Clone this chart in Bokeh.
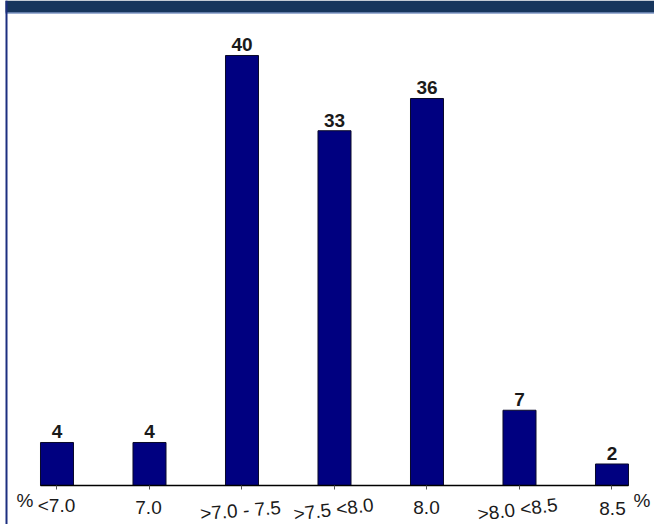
import math
from bokeh.plotting import figure
from bokeh.models import (Range1d, FixedTicker, BoxAnnotation, Label, LabelSet,
                          ColumnDataSource, LinearAxis, CustomJSTickFormatter)
from bokeh.core.properties import value
from bokeh.embed import file_html
from bokeh.resources import INLINE

# ---- data ----
categories = ["<7.0", "7.0", ">7.0 - 7.5", ">7.5 <8.0", "8.0", ">8.0 <8.5", "8.5"]
values = [4, 4, 40, 33, 36, 7, 2]
unit_label = "%"

# ---- layout of category labels (pixel offsets from tick, rotation in degrees) ----
label_dx = [-0.5, -1, -1.5, -1, -0.5, -2, 0.5]
label_dy = [-20, -22, -25, -24, -22, -24, -23]
label_angle = [0, 0, 4.5, 7, 0, 7, 0]

idx = list(range(len(categories)))
BAR_W = 0.357
FONT = "Liberation Sans"
TXT = "#1a1a1a"

p = figure(width=654, height=524, output_backend="svg", toolbar_location=None,
           x_range=Range1d(-0.6108, 6.4595), y_range=Range1d(-3.628, 45.116),
           x_axis_location=None, y_axis_location=None,
           min_border_left=0, min_border_right=0, min_border_top=0,
           min_border_bottom=0)
p.background_fill_color = "white"
p.border_fill_color = "white"
p.outline_line_color = None
p.xgrid.visible = False
p.ygrid.visible = False

src = ColumnDataSource(dict(x=idx, top=values, lab=[str(v) for v in values]))
p.vbar(x="x", top="top", width=BAR_W, source=src, fill_color="#000080",
       line_color="#0a0a2a", line_width=1)

ax = LinearAxis(fixed_location=0, bounds=(idx[0] - BAR_W / 2, idx[-1] + BAR_W / 2))
ax.ticker = FixedTicker(ticks=idx)
ax.formatter = CustomJSTickFormatter(code="return ''")
ax.minor_tick_line_color = None
ax.major_tick_in = 4
ax.major_tick_out = 0
ax.major_label_standoff = 0
ax.major_tick_line_color = "#555555"
ax.axis_line_color = "black"
ax.axis_line_width = 1.5
p.add_layout(ax, "above")

p.add_layout(LabelSet(x="x", y="top", text="lab", source=src, y_offset=4,
                      text_align="center", text_baseline="alphabetic",
                      text_font=value(FONT), text_font_size=value("19px"),
                      text_font_style="bold", text_color=TXT))

for i, c in enumerate(categories):
    p.add_layout(Label(x=i, y=0, text=c, x_offset=label_dx[i], y_offset=label_dy[i],
                       angle=math.radians(label_angle[i]), text_align="center",
                       text_baseline="alphabetic", text_font=FONT,
                       text_font_size="19px", text_color=TXT))

p.add_layout(Label(x=0, y=0, text=unit_label, x_offset=-32, y_offset=-15,
                   text_align="center", text_baseline="alphabetic", text_font=FONT,
                   text_font_size="19px", text_color=TXT))
p.add_layout(Label(x=len(categories) - 1, y=0, text=unit_label, x_offset=30, y_offset=-15,
                   text_align="center", text_baseline="alphabetic", text_font=FONT,
                   text_font_size="19px", text_color=TXT))

# slide frame decoration (canvas units: y measured from the top)
p.add_layout(BoxAnnotation(left=5, right=654, top=0, bottom=12,
                           left_units="canvas", right_units="canvas",
                           bottom_units="canvas", top_units="canvas",
                           fill_color="#17365d", fill_alpha=1, line_color=None))
p.add_layout(BoxAnnotation(left=5, right=654, top=12, bottom=13,
                           left_units="canvas", right_units="canvas",
                           bottom_units="canvas", top_units="canvas",
                           fill_color="#3f63a8", fill_alpha=1, line_color=None))
p.add_layout(BoxAnnotation(left=5, right=7, top=0, bottom=524,
                           left_units="canvas", right_units="canvas",
                           bottom_units="canvas", top_units="canvas",
                           fill_color="#1c2f80", fill_alpha=1, line_color=None))

open("out.html", "w").write(file_html(p, INLINE))
